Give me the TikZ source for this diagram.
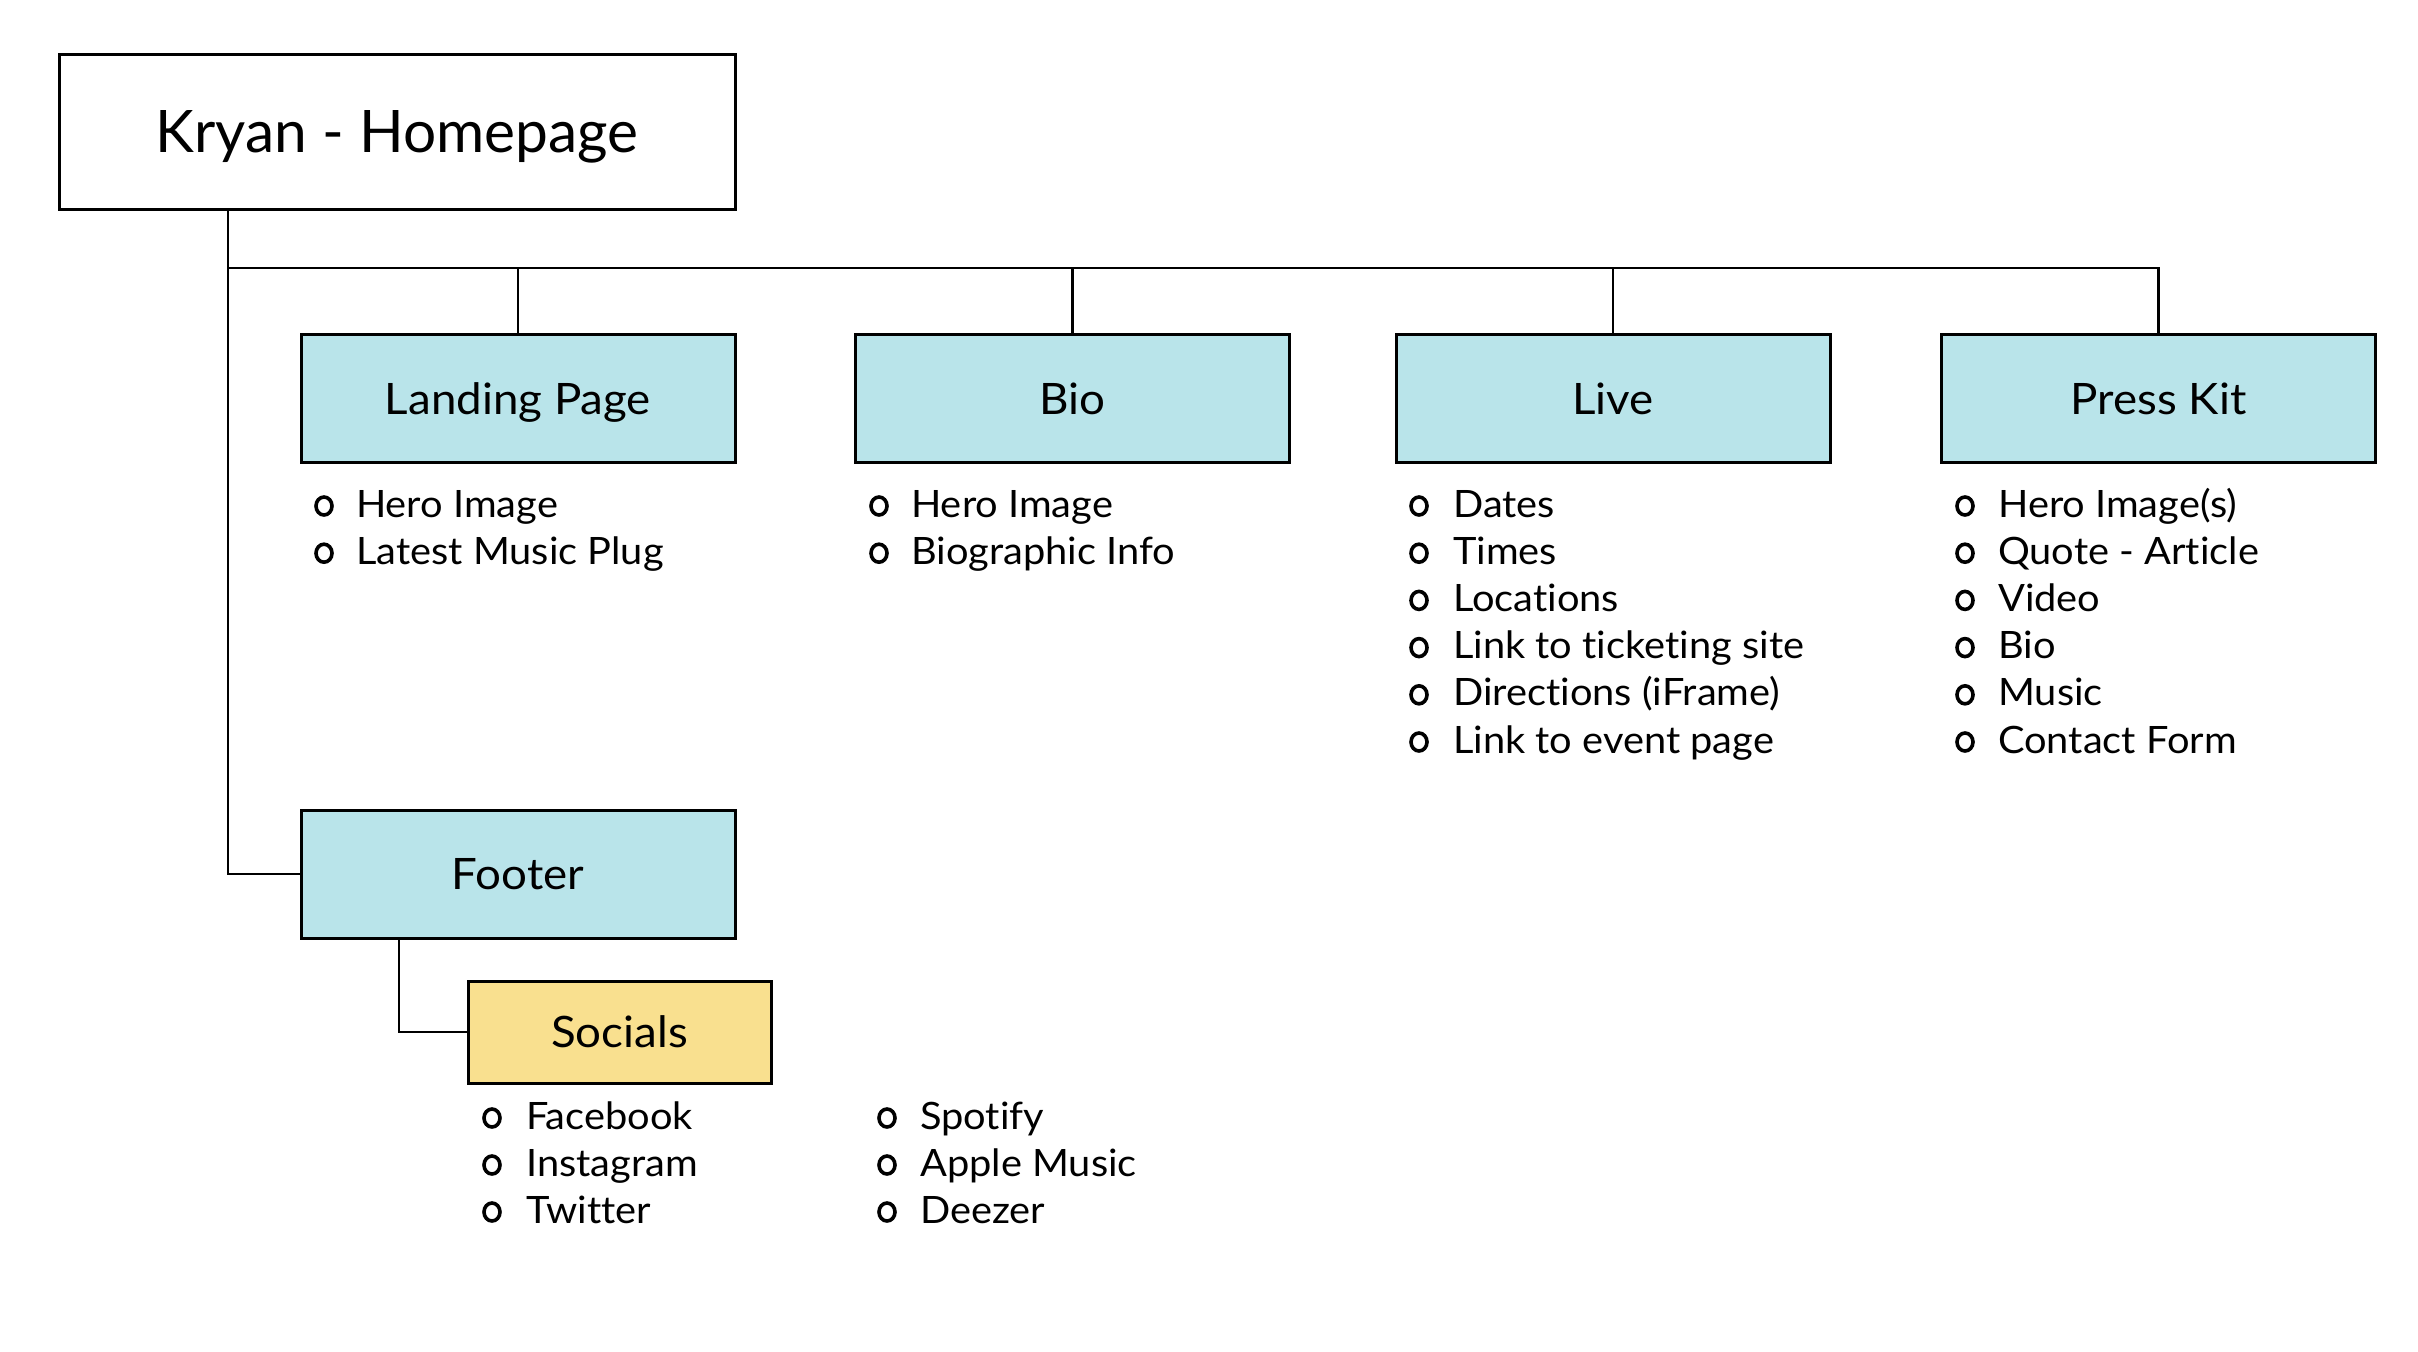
\documentclass[tikz,border=0pt]{standalone}
\usepackage{fontspec}
\setmainfont[Ligatures=NoCommon]{Lato}
\newfontfamily\widefont[FakeStretch=1.055,Ligatures=NoCommon]{Lato}
\definecolor{boxblue}{RGB}{185,228,234}
\definecolor{boxyellow}{RGB}{249,224,143}
\begin{document}
\begin{tikzpicture}[x=1pt,y=-1pt,
  box/.style={draw=black,line width=3pt,inner sep=0pt,text height=31pt,text depth=0pt,
    font=\widefont\fontsize{43.3}{50}\selectfont,minimum width=434pt,minimum height=128pt},
  bluebox/.style={box,fill=boxblue},
  conn/.style={line width=2.9pt},
  itemtext/.style={anchor=base west,inner sep=0pt,font=\widefont\fontsize{37.7}{44}\selectfont},
  bul/.style={line width=3.6pt}]
\useasboundingbox (0,0) rectangle (2418,1352);
% main boxes
\node[box,fill=white,text height=42pt,font=\fontsize{58.6}{66}\selectfont,minimum width=676pt,minimum height=155pt] (home) at (397,131.5) {Kryan - Homepage};
\node[bluebox] (landing) at (518,398.5) {Landing Page};
\node[bluebox] (bio) at (1072.5,398.5) {Bio};
\node[bluebox] (live) at (1613,398.5) {Live};
\node[bluebox] (press) at (2158.5,398.5) {Press Kit};
\node[bluebox] (footer) at (518,874) {Footer};
\node[box,fill=boxyellow,minimum width=303pt,minimum height=102pt] (socials) at (619.5,1032) {Socials};
% connectors
\coordinate (tk) at (228,268);
\coordinate (fk) at (399,1032);
\draw[conn] (tk |- home.south) -- (tk |- footer.west) -- (footer.west);
\draw[conn] (tk) -- (tk -| press.north) -- (press.north);
\draw[conn] (landing.north) -- (landing.north |- tk);
\draw[conn] (bio.north) -- (bio.north |- tk);
\draw[conn] (live.north) -- (live.north |- tk);
\draw[conn] (fk |- footer.south) -- (fk) -- (socials.west);
% lists
\foreach \t [count=\i] in {Hero Image, Latest Music Plug} {
  \node[itemtext] (lp\i) at (356,{517+47.2*(\i-1)}) {\t};
  \draw[bul] (324,{506+47.2*(\i-1)}) ellipse [x radius=8pt, y radius=9pt];
}
\foreach \t [count=\i] in {Hero Image, Biographic Info} {
  \node[itemtext] (bi\i) at (911,{517+47.2*(\i-1)}) {\t};
  \draw[bul] (879,{506+47.2*(\i-1)}) ellipse [x radius=8pt, y radius=9pt];
}
\foreach \t [count=\i] in {Dates, Times, Locations, Link to ticketing site, Directions (iFrame), Link to event page} {
  \node[itemtext] (li\i) at (1453,{517+47.2*(\i-1)}) {\t};
  \draw[bul] (1419,{506+47.2*(\i-1)}) ellipse [x radius=8pt, y radius=9pt];
}
\foreach \t [count=\i] in {Hero Image(s), Quote - Article, Video, Bio, Music, Contact Form} {
  \node[itemtext] (pk\i) at (1998,{517+47.2*(\i-1)}) {\t};
  \draw[bul] (1965,{506+47.2*(\i-1)}) ellipse [x radius=8pt, y radius=9pt];
}
\foreach \t [count=\i] in {Facebook, Instagram, Twitter} {
  \node[itemtext] (sa\i) at (526,{1129+47*(\i-1)}) {\t};
  \draw[bul] (492,{1118+47*(\i-1)}) ellipse [x radius=8pt, y radius=9pt];
}
\foreach \t [count=\i] in {Spotify, Apple Music, Deezer} {
  \node[itemtext] (sb\i) at (920,{1129+47*(\i-1)}) {\t};
  \draw[bul] (887,{1118+47*(\i-1)}) ellipse [x radius=8pt, y radius=9pt];
}
\end{tikzpicture}
\end{document}
